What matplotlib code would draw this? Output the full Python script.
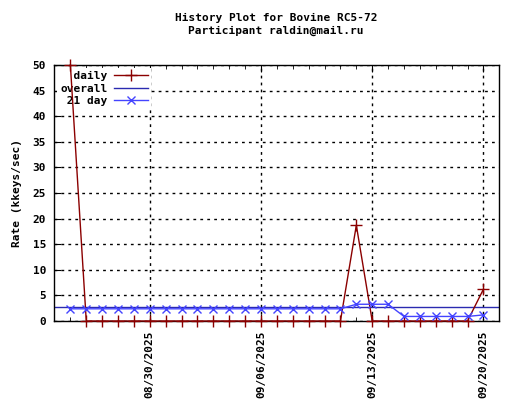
import datetime as dt
import matplotlib
matplotlib.use("Agg")
import matplotlib.pyplot as plt
import matplotlib.dates as mdates

start = dt.date(2025, 8, 25)
dates = [start + dt.timedelta(days=i) for i in range(27)]

daily = [50.0] + [0.0] * 17 + [18.7] + [0.0] * 7 + [6.2]
overall = 2.7
avg21 = [2.38] * 18 + [3.27, 3.27, 3.27] + [0.89] * 5 + [1.19]

major_ticks = [dt.date(2025, 8, 30), dt.date(2025, 9, 6), dt.date(2025, 9, 13), dt.date(2025, 9, 20)]
yticks = list(range(0, 55, 5))

mono = "DejaVu Sans Mono"
plt.rcParams['font.family'] = mono
plt.rcParams['font.weight'] = 'bold'
fs = 8

fig = plt.figure(figsize=(5.2, 4.0), dpi=100)
ax = fig.add_axes([0.1048, 0.1975, 0.8554, 0.64])

ax.plot(dates, daily, color='#8b0000', lw=1, marker='+', ms=9, mew=1,
        label='  daily', clip_on=False, zorder=3)
ax.axhline(overall, color='#2a2ab0', lw=1, label='overall', zorder=2)
ax.plot(dates, avg21, color='#4444ff', lw=1, marker='x', ms=6, mew=1,
        label=' 21 day', zorder=4)

ax.set_xlim(dt.date(2025, 8, 24), dt.date(2025, 9, 21))
ax.set_ylim(0, 50)
ax.set_yticks(yticks)
ax.set_xticks(major_ticks)
ax.xaxis.set_major_formatter(mdates.DateFormatter('%m/%d/%Y'))
ax.xaxis.set_minor_locator(mdates.DayLocator())
ax.tick_params(axis='x', which='both', direction='in', top=True, bottom=True,
               length=5, labelrotation=90, labelsize=fs, pad=7)
ax.tick_params(axis='x', which='minor', length=3)
ax.tick_params(axis='y', direction='in', left=True, right=False, length=5,
               labelsize=fs, pad=6)
for lab in ax.get_xticklabels() + ax.get_yticklabels():
    lab.set_fontweight('bold')

ax.grid(True, which='major', color='black', linestyle=(0, (2, 3)), lw=1)
ax.set_axisbelow(True)
for s in ax.spines.values():
    s.set_linewidth(1)

ax.set_ylabel('Rate (kkeys/sec)', fontsize=fs, fontweight='bold', labelpad=8)

fig.text(0.531, 0.955, 'History Plot for Bovine RC5-72', ha='center', va='center',
         fontsize=fs, fontweight='bold')
fig.text(0.531, 0.922, 'Participant raldin@mail.ru', ha='center', va='center',
         fontsize=fs, fontweight='bold')

leg = ax.legend(loc='upper left', bbox_to_anchor=(-0.007, 1.01), markerfirst=False,
                frameon=True, fancybox=False, borderpad=0.3, labelspacing=0.2,
                handlelength=3.0, handletextpad=0.6,
                prop={'family': mono, 'weight': 'bold', 'size': fs})
leg.get_frame().set_edgecolor('none')
leg.get_frame().set_facecolor('white')
leg.get_frame().set_alpha(1)
leg.set_zorder(1.5)

fig.savefig('out.png', dpi=100)
